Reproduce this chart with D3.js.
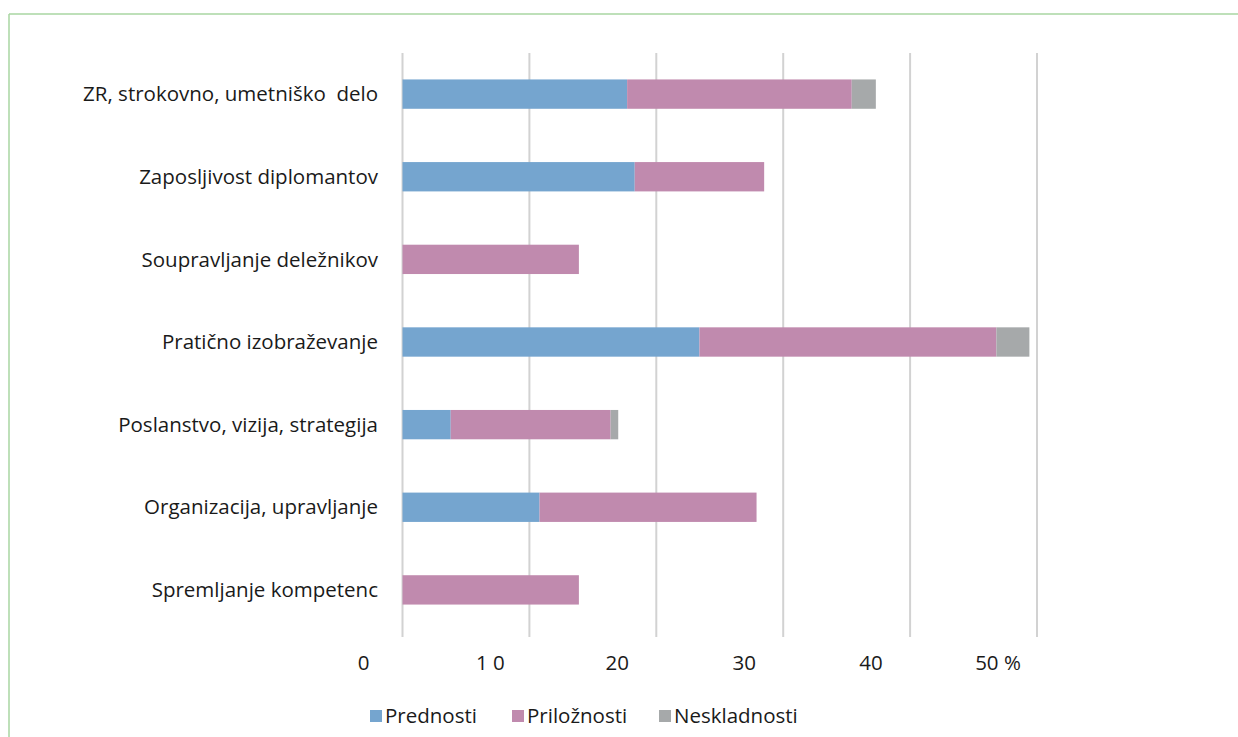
<!DOCTYPE html>
<html><head><meta charset="utf-8">
<script src="https://cdn.jsdelivr.net/npm/d3@7"></script>
<style>body{margin:0;background:#fff}svg{display:block}</style>
</head><body>
<svg id="c" width="1238" height="737"></svg>
<script>
const categories = ["ZR, strokovno, umetniško  delo","Zaposljivost diplomantov","Soupravljanje deležnikov","Pratično izobraževanje","Poslanstvo, vizija, strategija","Organizacija, upravljanje","Spremljanje kompetenc"];
const prednosti   = [17.7, 18.3, 0, 23.4, 3.8, 10.8, 0];
const priloznosti = [17.7, 10.2, 13.9, 23.4, 12.6, 17.1, 13.9];
const neskladnosti= [1.9, 0, 0, 2.6, 0.6, 0, 0];
const seriesNames = ["Prednosti","Priložnosti","Neskladnosti"];
const seriesColors = ["#75a5cf","#c08aae","#a6a9aa"];
const tickValues = [0,10,20,30,40,50];
const tickLabels = ["0","1 0","20","30","40","50 %"];

const svg = d3.select("#c");
const font = "'Open Sans', sans-serif";
const fs = 20.5;
// frame
svg.append("line").attr("x1",9).attr("x2",1238).attr("y1",14).attr("y2",14).attr("stroke","#a9d6a2").attr("stroke-width",1.5);
svg.append("line").attr("x1",9).attr("x2",9).attr("y1",14).attr("y2",737).attr("stroke","#a9d6a2").attr("stroke-width",1.5);

const x = d3.scaleLinear().domain([0,50]).range([402.5,1037]);
const y = d3.scaleBand().domain(categories).range([53,631]).paddingInner(0.645).paddingOuter(0.32);

svg.append("g").selectAll("line").data(tickValues).join("line")
  .attr("x1",d=>x(d)).attr("x2",d=>x(d)).attr("y1",53).attr("y2",637)
  .attr("stroke","#d2d2d2").attr("stroke-width",2);

const rows = categories.map((c,i)=>({cat:c, v:[prednosti[i],priloznosti[i],neskladnosti[i]]}));
const stack = d3.stack().keys([0,1,2]).value((d,k)=>d.v[k]);
const stacked = stack(rows);
svg.append("g").selectAll("g").data(stacked).join("g").attr("fill",(d,i)=>seriesColors[i])
  .selectAll("rect").data(d=>d.filter(p=>p[1]-p[0]>0)).join("rect")
  .attr("x",d=>x(d[0])).attr("width",d=>x(d[1])-x(d[0]))
  .attr("y",d=>y(d.data.cat)).attr("height",y.bandwidth());

svg.append("g").selectAll("text").data(categories).join("text")
  .attr("x",378).attr("y",d=>y(d)+y.bandwidth()/2).attr("dy","0.35em")
  .attr("text-anchor","end").attr("font-family",font).attr("font-size",fs).attr("fill","#1a1a1a")
  .style("white-space","pre").text(d=>d);

svg.append("g").selectAll("text").data(tickValues).join("text")
  .attr("x",d=>x(d)-39).attr("y",670).attr("text-anchor","middle")
  .attr("font-family",font).attr("font-size",fs).attr("fill","#1a1a1a")
  .text((d,i)=>tickLabels[i]);

const legX = [370,512,659];
const lg = svg.append("g").selectAll("g").data(seriesNames).join("g")
  .attr("transform",(d,i)=>`translate(${legX[i]},716)`);
lg.append("rect").attr("x",0).attr("y",-6).attr("width",12).attr("height",12).attr("fill",(d,i)=>seriesColors[i]);
lg.append("text").attr("x",15).attr("dy","0.35em").attr("font-family",font).attr("font-size",fs).attr("fill","#1a1a1a").text(d=>d);
</script>
</body></html>
